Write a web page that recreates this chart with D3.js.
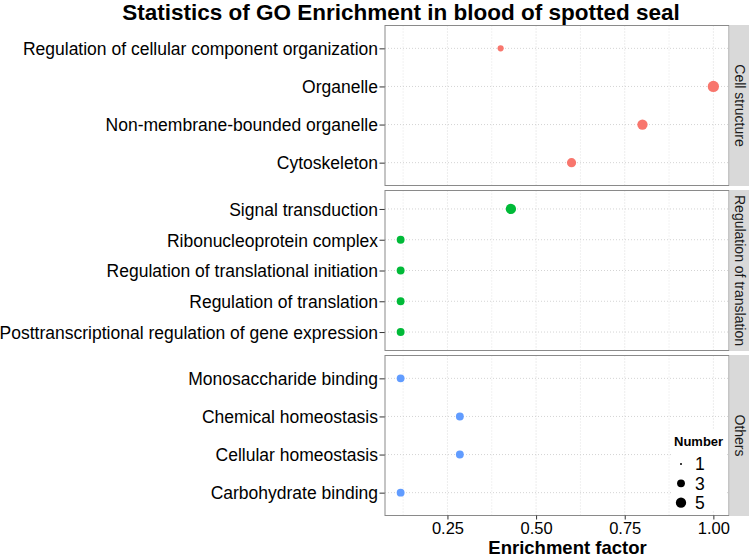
<!DOCTYPE html>
<html>
<head>
<meta charset="utf-8">
<script src="https://cdn.jsdelivr.net/npm/d3@7"></script>
<style>
  body { margin: 0; background: #fff; }
  svg { display: block; font-family: "Liberation Sans", Arial, sans-serif; }
</style>
</head>
<body>
<div id="chart"></div>
<script>
// --- data ---
const groups = ["Cell structure", "Regulation of translation", "Others"];
const groupColors = ["#F8766D", "#00BA38", "#619CFF"];

const terms = [
  "Regulation of cellular component organization", "Organelle", "Non-membrane-bounded organelle", "Cytoskeleton",
  "Signal transduction", "Ribonucleoprotein complex", "Regulation of translational initiation",
  "Regulation of translation", "Posttranscriptional regulation of gene expression",
  "Monosaccharide binding", "Chemical homeostasis", "Cellular homeostasis", "Carbohydrate binding"
];
const termGroup = [0, 0, 0, 0, 1, 1, 1, 1, 1, 2, 2, 2, 2];
const enrichment = [0.40, 1.00, 0.80, 0.60, 0.429, 0.118, 0.118, 0.118, 0.118, 0.118, 0.285, 0.285, 0.118];
const numbers = [2, 6, 5, 4, 5, 3, 3, 3, 3, 3, 3, 3, 3];

const xTicks = [0.25, 0.50, 0.75, 1.00];
const xMinor = [0.125, 0.375, 0.625, 0.875];
const legendBreaks = [1, 3, 5];

// --- layout ---
const width = 749, height = 557;
const panelLeft = 385, panelRight = 729;
const panelTop = 25.5, panelH = 160, panelGap = 5;
const stripW = 21;

const svg = d3.select("#chart").append("svg").attr("width", width).attr("height", height);

// x scale: data extent plus 5% on each side (ggplot default)
const [xmin, xmax] = d3.extent(enrichment);
const pad = (xmax - xmin) * 0.05;
const x = d3.scaleLinear().domain([xmin - pad, xmax + pad]).range([panelLeft, panelRight]);

// size: area-style mapping like scale_size
const sizeT = d3.scaleLinear().domain([1, 6]).range([0, 1]).clamp(true);
const sizeR = d3.scaleLinear().domain([0, 1]).range([1.0, 5.65]);
const radius = n => sizeR(Math.sqrt(sizeT(n)));

const rows = terms.map((t, i) => ({ term: t, group: termGroup[i], ef: enrichment[i], n: numbers[i] }));

// title
svg.append("text")
  .attr("x", 401).attr("y", 20)
  .attr("text-anchor", "middle")
  .style("font-weight", "bold").style("font-size", "22.5px")
  .text("Statistics of GO Enrichment in blood of spotted seal");

groups.forEach((g, gi) => {
  const top = panelTop + gi * (panelH + panelGap);
  const data = rows.filter(d => d.group === gi);
  const y = d3.scalePoint().domain(data.map(d => d.term)).range([top, top + panelH]).padding(0.6);
  const panel = svg.append("g");

  // grid
  panel.selectAll(".vminor").data(xMinor).join("line")
    .attr("x1", d => x(d)).attr("x2", d => x(d)).attr("y1", top).attr("y2", top + panelH)
    .attr("stroke", "#e3e3e3").attr("stroke-dasharray", "1,2");
  panel.selectAll(".vmajor").data(xTicks).join("line")
    .attr("x1", d => x(d)).attr("x2", d => x(d)).attr("y1", top).attr("y2", top + panelH)
    .attr("stroke", "#dadada").attr("stroke-dasharray", "1,2");
  panel.selectAll(".hgrid").data(data).join("line")
    .attr("x1", panelLeft).attr("x2", panelRight).attr("y1", d => y(d.term)).attr("y2", d => y(d.term))
    .attr("stroke", "#d4d4d4").attr("stroke-dasharray", "1,2");

  // y axis
  const yAxis = d3.axisLeft(y).tickSize(5.5).tickPadding(1.5);
  const ya = panel.append("g").attr("transform", `translate(${panelLeft},0)`).call(yAxis);
  ya.select(".domain").remove();
  ya.selectAll("line").attr("stroke", "#333");
  ya.selectAll("text").style("font-size", "17.5px").attr("fill", "#000").attr("dy", "0.36em");

  // points
  panel.selectAll("circle").data(data).join("circle")
    .attr("cx", d => x(d.ef)).attr("cy", d => y(d.term))
    .attr("r", d => radius(d.n))
    .attr("fill", groupColors[gi]);

  // border
  panel.append("rect")
    .attr("x", panelLeft).attr("y", top).attr("width", panelRight - panelLeft).attr("height", panelH)
    .attr("fill", "none").attr("stroke", "#8a8a8a").attr("stroke-width", 1);

  // strip
  panel.append("rect")
    .attr("x", panelRight + 0.5).attr("y", top - 0.5).attr("width", stripW).attr("height", panelH + 1)
    .attr("fill", "#d9d9d9");
  panel.append("text")
    .attr("transform", `translate(${panelRight + 0.5 + stripW / 2},${top + panelH / 2}) rotate(90)`)
    .attr("text-anchor", "middle").attr("dy", "0.36em")
    .style("font-size", "14px").attr("fill", "#1a1a1a")
    .text(g);
});

// x axis under the last panel
const bottom = panelTop + 3 * panelH + 2 * panelGap;
const xa = svg.append("g").attr("transform", `translate(0,${bottom})`)
  .call(d3.axisBottom(x).tickValues(xTicks).tickFormat(d3.format(".2f")).tickSize(4).tickPadding(2.5));
xa.select(".domain").remove();
xa.selectAll("line").attr("stroke", "#333");
xa.selectAll("text").style("font-size", "16.5px").attr("fill", "#000");

svg.append("text")
  .attr("x", (panelLeft + panelRight + stripW) / 2).attr("y", 553.5)
  .attr("text-anchor", "middle")
  .style("font-weight", "bold").style("font-size", "18.5px")
  .text("Enrichment factor");

// size legend inside the last panel
const lg = svg.append("g");
lg.append("rect").attr("x", 671).attr("y", 430).attr("width", 56).attr("height", 81).attr("fill", "#fff");
lg.append("text").attr("x", 674).attr("y", 446)
  .style("font-weight", "bold").style("font-size", "13px").text("Number");
const ly = d3.scalePoint().domain(legendBreaks).range([464, 502.7]);
lg.selectAll("circle").data(legendBreaks).join("circle")
  .attr("cx", 681).attr("cy", d => ly(d)).attr("r", d => radius(d)).attr("fill", "#000");
lg.selectAll(".lab").data(legendBreaks).join("text")
  .attr("x", 695).attr("y", d => ly(d)).attr("dy", "0.36em")
  .style("font-size", "17.5px").text(d => d);
</script>
</body>
</html>
